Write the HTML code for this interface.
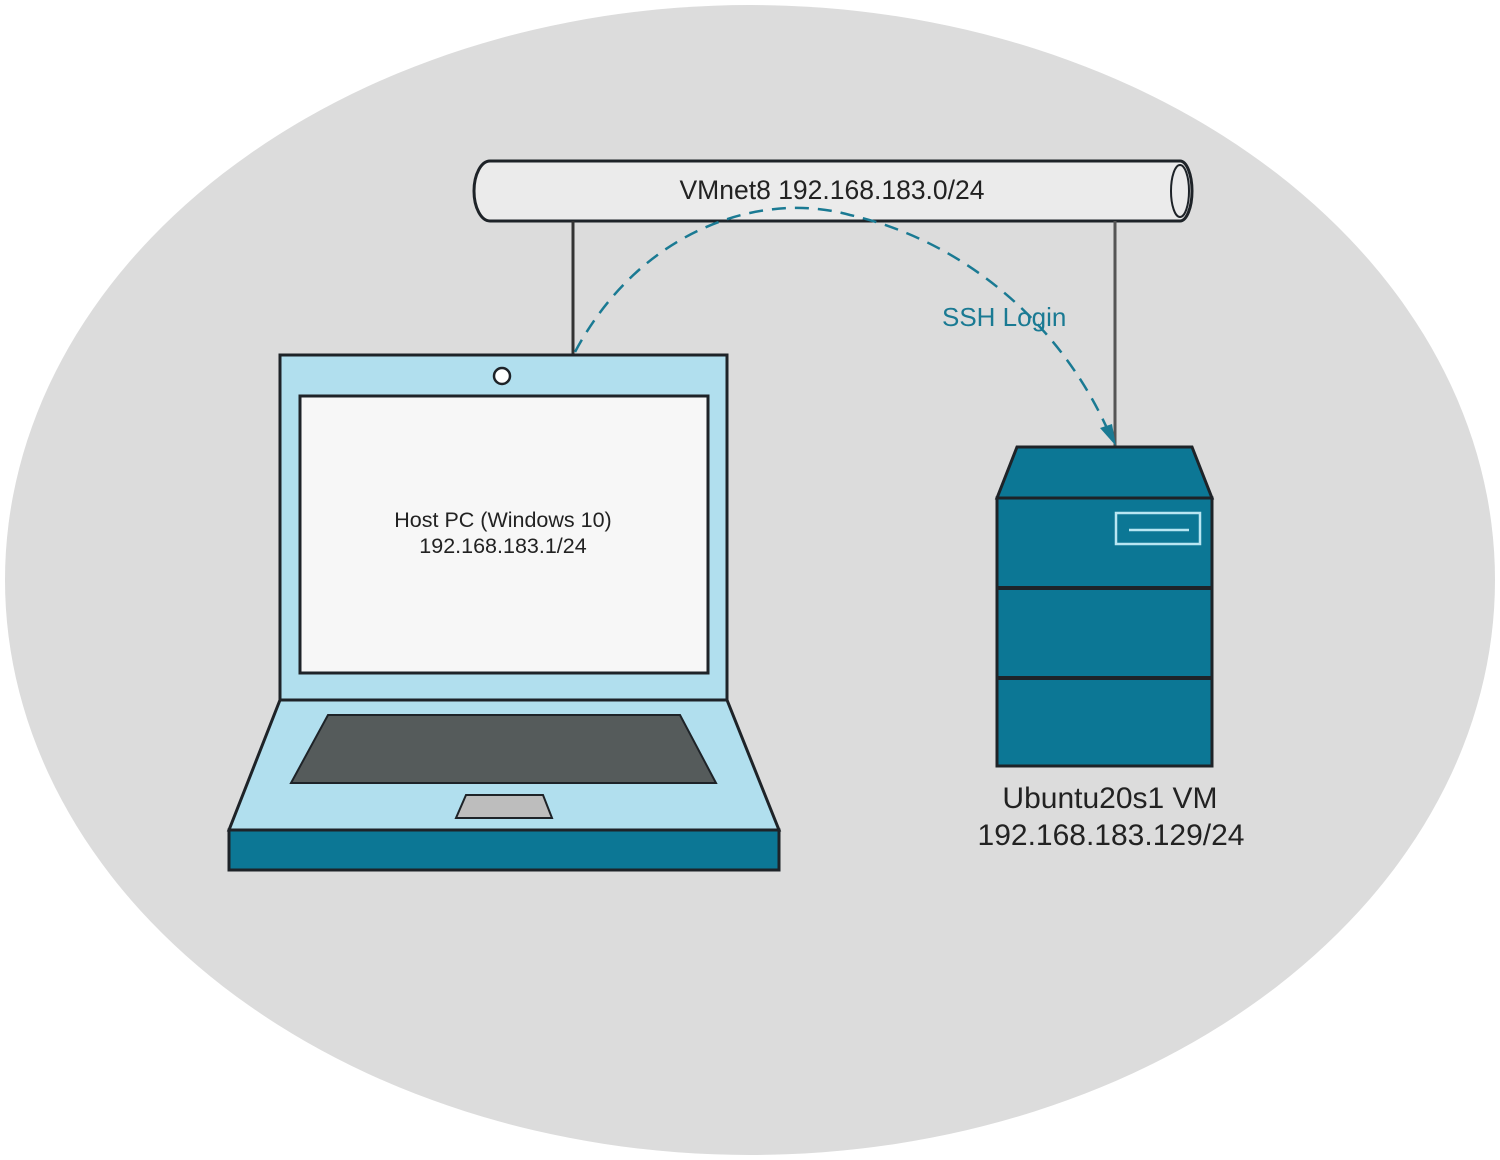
<!DOCTYPE html>
<html><head><meta charset="utf-8"><style>
html,body{margin:0;padding:0;background:#fff;width:1500px;height:1160px;overflow:hidden}
svg{display:block}
text{font-family:"Liberation Sans",sans-serif}
</style></head><body>
<svg width="1500" height="1160" viewBox="0 0 1500 1160">
<ellipse cx="750" cy="580" rx="745" ry="575" fill="#dcdcdc"/>
<path d="M490 161 H1180 A12 30 0 0 1 1180 221 H490 A16 30 0 0 1 490 161 Z" fill="#ebebeb" stroke="#1e2328" stroke-width="3"/>
<ellipse cx="1180" cy="191" rx="9" ry="26" fill="#ebebeb" stroke="#1e2328" stroke-width="2"/>
<text x="832" y="199" font-size="26.5" text-anchor="middle" fill="#222">VMnet8 192.168.183.0/24</text>
<line x1="573" y1="221" x2="573" y2="355" stroke="#333" stroke-width="3"/>
<line x1="1115" y1="221" x2="1115" y2="447" stroke="#555" stroke-width="3"/>
<path d="M575 352 C640 230 760 190 850 215 C960 240 1060 320 1110 435" fill="none" stroke="#1a7a93" stroke-width="2.5" stroke-dasharray="14 9"/>
<polygon points="1116,446 1100,428 1112,424" fill="#1a7a93"/>
<text x="942" y="326" font-size="26" fill="#1a7a93">SSH Login</text>
<rect x="280" y="355" width="447" height="345" fill="#b1dfee" stroke="#1e2328" stroke-width="3"/>
<circle cx="502" cy="376" r="8" fill="#fff" stroke="#1e2328" stroke-width="2.5"/>
<rect x="300" y="396" width="408" height="277" fill="#f7f7f7" stroke="#1e2328" stroke-width="3"/>
<text x="503" y="527" font-size="21.5" text-anchor="middle" fill="#222">Host PC (Windows 10)</text>
<text x="503" y="553" font-size="21.5" text-anchor="middle" fill="#222">192.168.183.1/24</text>
<polygon points="280,700 727,700 779,830 229,830" fill="#b1dfee" stroke="#1e2328" stroke-width="3"/>
<polygon points="328,715 680,715 716,783 291,783" fill="#555b5b" stroke="#1e2328" stroke-width="2"/>
<polygon points="466,795 543,795 552,818 456,818" fill="#bdbdbd" stroke="#1e2328" stroke-width="2"/>
<rect x="229" y="830" width="550" height="40" fill="#0c7795" stroke="#1e2328" stroke-width="3"/>
<polygon points="1017,447 1192,447 1212,498 997,498" fill="#0c7795" stroke="#1e2328" stroke-width="3"/>
<rect x="997" y="498" width="215" height="268" fill="#0c7795" stroke="#1e2328" stroke-width="3"/>
<line x1="997" y1="588" x2="1212" y2="588" stroke="#1e2328" stroke-width="4"/>
<line x1="997" y1="678" x2="1212" y2="678" stroke="#1e2328" stroke-width="4"/>
<rect x="1116" y="513" width="84" height="31" fill="none" stroke="#b8e6f2" stroke-width="2.5"/>
<line x1="1129" y1="530" x2="1189" y2="530" stroke="#b8e6f2" stroke-width="2.5"/>
<text x="1110" y="808" font-size="30" text-anchor="middle" fill="#222">Ubuntu20s1 VM</text>
<text x="1111" y="845" font-size="30" text-anchor="middle" fill="#222">192.168.183.129/24</text>
</svg>
</body></html>
